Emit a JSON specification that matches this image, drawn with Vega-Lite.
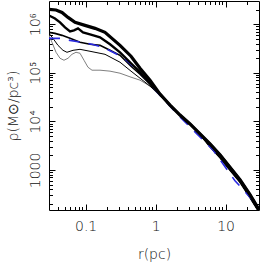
{
  "$schema": "https://vega.github.io/schema/vega-lite/v6.json",
  "width": 210,
  "height": 209,
  "autosize": "none",
  "padding": {"left": 49, "top": 1, "right": 3, "bottom": 54},
  "background": "white",
  "config": {
    "view": {"stroke": "black", "strokeWidth": 1},
    "axis": {"labelFont": "DejaVu Sans", "labelFontSize": 14, "labelFontWeight": 200, "titleFont": "DejaVu Sans", "titleFontSize": 14, "titleFontWeight": 200, "labelColor": "#111", "titleColor": "#111", "grid": false, "tickColor": "black", "tickWidth": 1, "labelOverlap": false, "labelFlush": false}
  },
  "data": {"values": [
    {"s":"A","r":0.03,"v":2010000},{"s":"A","r":0.0378,"v":1960000},{"s":"A","r":0.046,"v":1740000},{"s":"A","r":0.0561,"v":1380000},{"s":"A","r":0.0706,"v":1090000},{"s":"A","r":0.098,"v":944000},{"s":"A","r":0.1362,"v":820000},{"s":"A","r":0.1893,"v":679000},{"s":"A","r":0.31,"v":367000},{"s":"A","r":0.4453,"v":219000},{"s":"A","r":0.5984,"v":124000},{"s":"A","r":0.8318,"v":70500},{"s":"A","r":1.156,"v":36400},{"s":"A","r":1.606,"v":21700},{"s":"A","r":2.232,"v":13500},{"s":"A","r":3.1,"v":8840},{"s":"A","r":4.035,"v":6060},{"s":"A","r":5.984,"v":3440},{"s":"A","r":8.318,"v":2050},{"s":"A","r":10.82,"v":1280},{"s":"A","r":16.06,"v":629},{"s":"A","r":22.32,"v":310},{"s":"A","r":30,"v":153},
    {"s":"B","r":0.03,"v":1510000},{"s":"B","r":0.0365,"v":1310000},{"s":"B","r":0.0431,"v":1090000},{"s":"B","r":0.0508,"v":859000},{"s":"B","r":0.0599,"v":711000},{"s":"B","r":0.0683,"v":746000},{"s":"B","r":0.0779,"v":820000},{"s":"B","r":0.0918,"v":679000},{"s":"B","r":0.1156,"v":617000},{"s":"B","r":0.1606,"v":536000},{"s":"B","r":0.2232,"v":385000},{"s":"B","r":0.31,"v":264000},{"s":"B","r":0.4453,"v":157000},{"s":"B","r":0.5984,"v":103000},{"s":"B","r":0.8318,"v":61200},{"s":"B","r":1.156,"v":36400},{"s":"B","r":1.606,"v":21700},{"s":"B","r":2.232,"v":13500},{"s":"B","r":3.1,"v":8840},{"s":"B","r":4.035,"v":6060},{"s":"B","r":5.984,"v":3440},{"s":"B","r":8.318,"v":2050},{"s":"B","r":10.82,"v":1280},{"s":"B","r":16.06,"v":629},{"s":"B","r":22.32,"v":310},{"s":"B","r":30,"v":153},
    {"s":"C","r":0.03,"v":679000},{"s":"C","r":0.0365,"v":647000},{"s":"C","r":0.046,"v":589000},{"s":"C","r":0.0599,"v":511000},{"s":"C","r":0.0832,"v":423000},{"s":"C","r":0.1156,"v":385000},{"s":"C","r":0.1606,"v":367000},{"s":"C","r":0.2232,"v":290000},{"s":"C","r":0.31,"v":229000},{"s":"C","r":0.4453,"v":136000},{"s":"C","r":0.5984,"v":93500},{"s":"C","r":0.8318,"v":58300},{"s":"C","r":1.156,"v":34700},{"s":"C","r":1.606,"v":21700},{"s":"C","r":2.232,"v":13500},{"s":"C","r":3.1,"v":8840},{"s":"C","r":4.035,"v":6060},{"s":"C","r":5.984,"v":2990},{"s":"C","r":8.318,"v":1780},{"s":"C","r":10.82,"v":1110},{"s":"C","r":16.06,"v":559},{"s":"C","r":22.32,"v":269},{"s":"C","r":30,"v":136},
    {"s":"D","r":0.03,"v":647000},{"s":"D","r":0.0342,"v":511000},{"s":"D","r":0.0403,"v":367000},{"s":"D","r":0.0475,"v":290000},{"s":"D","r":0.0542,"v":264000},{"s":"D","r":0.0661,"v":290000},{"s":"D","r":0.0832,"v":304000},{"s":"D","r":0.1156,"v":277000},{"s":"D","r":0.1893,"v":240000},{"s":"D","r":0.31,"v":165000},{"s":"D","r":0.4453,"v":108000},{"s":"D","r":0.5984,"v":77400},{"s":"D","r":0.8318,"v":53100},{"s":"D","r":1.156,"v":34700},{"s":"D","r":1.606,"v":21700},{"s":"D","r":2.232,"v":13500},{"s":"D","r":3.1,"v":8840},{"s":"D","r":4.035,"v":6060},{"s":"D","r":5.984,"v":2990},{"s":"D","r":8.318,"v":1780},{"s":"D","r":10.82,"v":1110},{"s":"D","r":16.06,"v":559},{"s":"D","r":22.32,"v":269},{"s":"D","r":30,"v":136},
    {"s":"E","r":0.03,"v":589000},{"s":"E","r":0.0331,"v":423000},{"s":"E","r":0.0378,"v":264000},{"s":"E","r":0.0431,"v":199000},{"s":"E","r":0.0491,"v":181000},{"s":"E","r":0.0561,"v":199000},{"s":"E","r":0.0639,"v":240000},{"s":"E","r":0.0729,"v":264000},{"s":"E","r":0.0832,"v":252000},{"s":"E","r":0.0949,"v":181000},{"s":"E","r":0.1082,"v":130000},{"s":"E","r":0.1234,"v":113000},{"s":"E","r":0.1606,"v":113000},{"s":"E","r":0.2232,"v":108000},{"s":"E","r":0.31,"v":98000},{"s":"E","r":0.4453,"v":81200},{"s":"E","r":0.5984,"v":70500},{"s":"E","r":0.8318,"v":53100},{"s":"E","r":1.156,"v":33100},{"s":"E","r":1.606,"v":21700},{"s":"E","r":2.232,"v":13500},{"s":"E","r":3.1,"v":8840},{"s":"E","r":4.035,"v":6060},{"s":"E","r":5.984,"v":2990},{"s":"E","r":8.318,"v":1780},{"s":"E","r":10.82,"v":1110},{"s":"E","r":16.06,"v":559},{"s":"E","r":22.32,"v":269},{"s":"E","r":30,"v":136},
    {"s":"F","r":0.03,"v":511000},{"s":"F","r":0.0431,"v":511000},{"s":"F","r":0.0599,"v":465000},{"s":"F","r":0.0888,"v":423000},{"s":"F","r":0.1234,"v":385000},{"s":"F","r":0.1773,"v":334000},{"s":"F","r":0.2462,"v":264000},{"s":"F","r":0.3421,"v":209000},{"s":"F","r":0.5984,"v":103000},{"s":"F","r":1.156,"v":34700},{"s":"F","r":2.232,"v":12300},{"s":"F","r":4.308,"v":4790},{"s":"F","r":6.607,"v":2590},{"s":"F","r":13.62,"v":600},{"s":"F","r":25.45,"v":223},{"s":"F","r":30,"v":160}
  ]},
  "resolve": {"axis": {"x": "independent", "y": "independent"}},
  "layer": [
    {
      "transform": [{"filter": "datum.s === 'E'"}],
      "mark": {"type": "line", "color": "#808080", "strokeWidth": 1, "clip": true},
      "encoding": {
        "x": {"field": "r", "type": "quantitative", "scale": {"type": "log", "domain": [0.03, 30], "nice": false},
          "axis": {"orient": "bottom", "values": [0.1, 1, 10], "format": "~g", "ticks": false, "domain": false, "labelPadding": 9, "title": "r(pc)", "titleX": 105, "titleY": 44, "titleAlign": "center", "titleBaseline": "middle"}},
        "y": {"field": "v", "type": "quantitative", "scale": {"type": "log", "domain": [150, 3000000], "nice": false},
          "axis": {"orient": "left", "values": [1000, 10000, 100000, 1000000], "labelExpr": "datum.value > 500000 ? '10⁶' : datum.value > 50000 ? '10⁵' : datum.value > 5000 ? '10⁴' : '1000'", "ticks": false, "domain": false, "labelAngle": 270, "labelAlign": "center", "labelBaseline": "alphabetic", "labelPadding": 10, "title": "ρ(M⊙/pc³)", "titleX": -36, "titleY": 104.5, "titleAngle": 270, "titleAlign": "center", "titleBaseline": "middle"}}
      }
    },
    {
      "transform": [{"filter": "datum.s === 'D'"}],
      "mark": {"type": "line", "color": "black", "strokeWidth": 1, "clip": true},
      "encoding": {
        "x": {"field": "r", "type": "quantitative", "scale": {"type": "log", "domain": [0.03, 30], "nice": false},
          "axis": {"orient": "bottom", "values": [0.1, 1, 10], "labels": false, "domain": false, "tickSize": -6, "title": null}},
        "y": {"field": "v", "type": "quantitative", "scale": {"type": "log", "domain": [150, 3000000], "nice": false},
          "axis": {"orient": "left", "values": [1000, 10000, 100000, 1000000], "labels": false, "domain": false, "tickSize": -6, "title": null}}
      }
    },
    {
      "transform": [{"filter": "datum.s === 'C'"}],
      "mark": {"type": "line", "color": "black", "strokeWidth": 1.6, "clip": true},
      "encoding": {
        "x": {"field": "r", "type": "quantitative", "scale": {"type": "log", "domain": [0.03, 30], "nice": false},
          "axis": {"orient": "bottom", "values": [0.04, 0.05, 0.06, 0.07, 0.08, 0.09, 0.2, 0.3, 0.4, 0.5, 0.6, 0.7, 0.8, 0.9, 2, 3, 4, 5, 6, 7, 8, 9, 20], "labels": false, "domain": false, "tickSize": -3.5, "title": null}},
        "y": {"field": "v", "type": "quantitative", "scale": {"type": "log", "domain": [150, 3000000], "nice": false},
          "axis": {"orient": "left", "values": [200, 300, 400, 500, 600, 700, 800, 900, 2000, 3000, 4000, 5000, 6000, 7000, 8000, 9000, 20000, 30000, 40000, 50000, 60000, 70000, 80000, 90000, 200000, 300000, 400000, 500000, 600000, 700000, 800000, 900000, 2000000], "labels": false, "domain": false, "tickSize": -3.5, "title": null}}
      }
    },
    {
      "transform": [{"filter": "datum.s === 'F'"}],
      "mark": {"type": "line", "color": "#2a2ae0", "strokeWidth": 1.6, "strokeDash": [11, 9], "clip": true},
      "encoding": {
        "x": {"field": "r", "type": "quantitative", "scale": {"type": "log", "domain": [0.03, 30], "nice": false},
          "axis": {"orient": "top", "values": [0.1, 1, 10], "labels": false, "domain": false, "tickSize": -6, "title": null}},
        "y": {"field": "v", "type": "quantitative", "scale": {"type": "log", "domain": [150, 3000000], "nice": false},
          "axis": {"orient": "right", "values": [1000, 10000, 100000, 1000000], "labels": false, "domain": false, "tickSize": -6, "title": null}}
      }
    },
    {
      "transform": [{"filter": "datum.s === 'B'"}],
      "mark": {"type": "line", "color": "black", "strokeWidth": 2.4, "clip": true},
      "encoding": {
        "x": {"field": "r", "type": "quantitative", "scale": {"type": "log", "domain": [0.03, 30], "nice": false},
          "axis": {"orient": "top", "values": [0.04, 0.05, 0.06, 0.07, 0.08, 0.09, 0.2, 0.3, 0.4, 0.5, 0.6, 0.7, 0.8, 0.9, 2, 3, 4, 5, 6, 7, 8, 9, 20], "labels": false, "domain": false, "tickSize": -3.5, "title": null}},
        "y": {"field": "v", "type": "quantitative", "scale": {"type": "log", "domain": [150, 3000000], "nice": false},
          "axis": {"orient": "right", "values": [200, 300, 400, 500, 600, 700, 800, 900, 2000, 3000, 4000, 5000, 6000, 7000, 8000, 9000, 20000, 30000, 40000, 50000, 60000, 70000, 80000, 90000, 200000, 300000, 400000, 500000, 600000, 700000, 800000, 900000, 2000000], "labels": false, "domain": false, "tickSize": -3.5, "title": null}}
      }
    },
    {
      "transform": [{"filter": "datum.s === 'A'"}],
      "mark": {"type": "line", "color": "black", "strokeWidth": 3.2, "clip": true},
      "encoding": {
        "x": {"field": "r", "type": "quantitative", "scale": {"type": "log", "domain": [0.03, 30], "nice": false}, "axis": null},
        "y": {"field": "v", "type": "quantitative", "scale": {"type": "log", "domain": [150, 3000000], "nice": false}, "axis": null}
      }
    }
  ]
}
